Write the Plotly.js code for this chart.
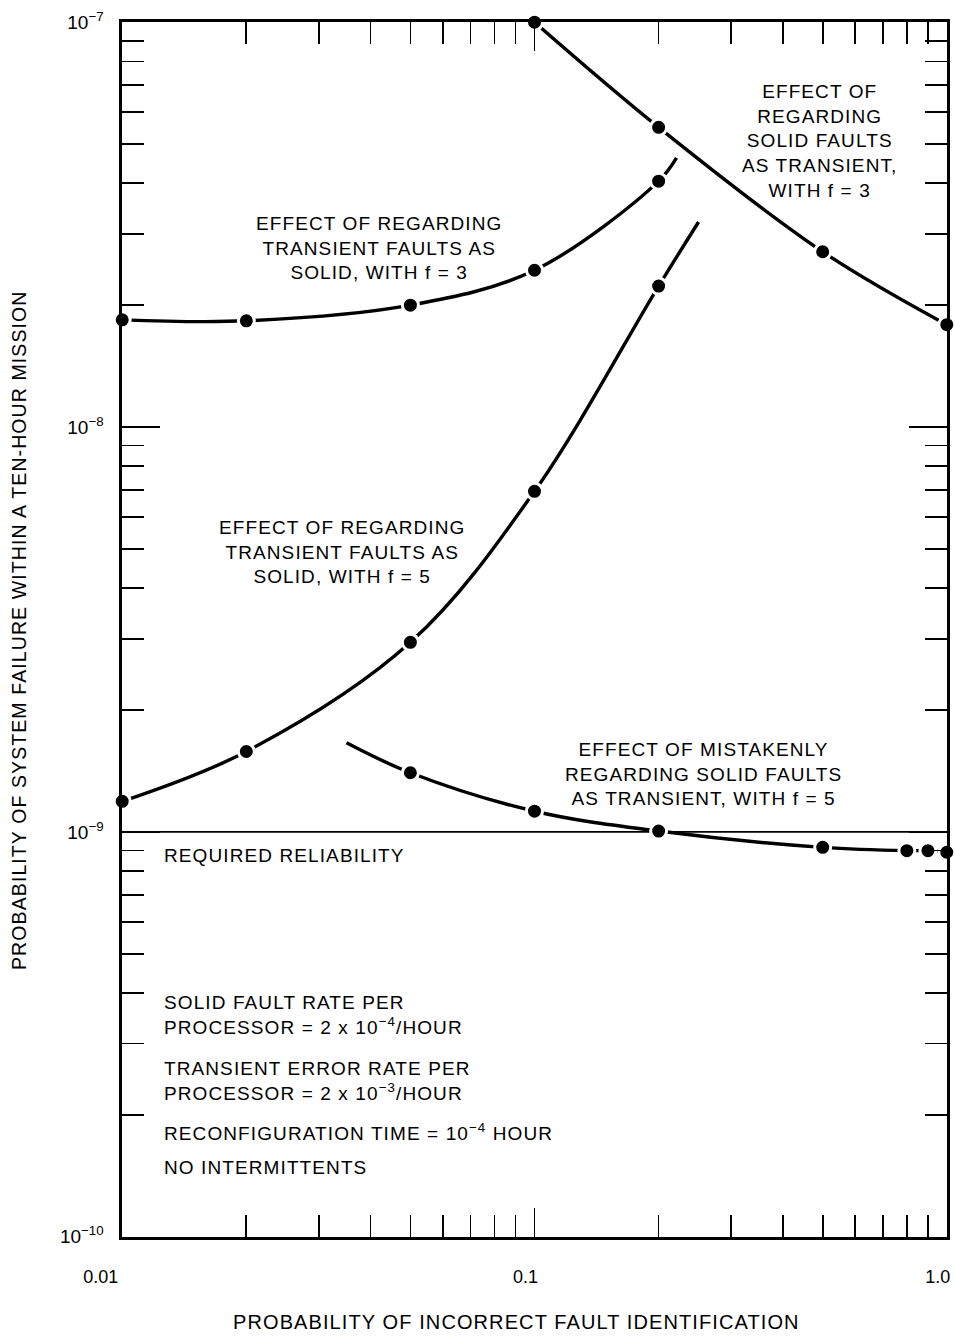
<!DOCTYPE html>
<html>
<head>
<meta charset="utf-8">
<script src="https://cdn.plot.ly/plotly-3.0.1.min.js"></script>
<style>
  html, body { margin: 0; padding: 0; background: #fff; }
  #chart { width: 955px; height: 1336px; }
  .annotation-text { letter-spacing: 1.1px; }
</style>
</head>
<body>
<div id="chart"></div>
<script>
// ---- data ----
// Effect of regarding solid faults as transient, f = 3
const solidAsTransientF3_x = [0.1, 0.2, 0.5, 1.0];
const solidAsTransientF3_y = [1.0e-7, 5.5e-8, 2.71e-8, 1.79e-8];

// Effect of regarding transient faults as solid, f = 3
const transientAsSolidF3_x = [0.01, 0.02, 0.05, 0.1, 0.2];
const transientAsSolidF3_y = [1.84e-8, 1.83e-8, 2.0e-8, 2.44e-8, 4.05e-8];
const transientAsSolidF3_endX = 0.221;
const transientAsSolidF3_endY = 4.62e-8;

// Effect of regarding transient faults as solid, f = 5
const transientAsSolidF5_x = [0.01, 0.02, 0.05, 0.1, 0.2];
const transientAsSolidF5_y = [1.19e-9, 1.58e-9, 2.94e-9, 6.94e-9, 2.23e-8];
const transientAsSolidF5_endX = 0.25;
const transientAsSolidF5_endY = 3.21e-8;

// Effect of mistakenly regarding solid faults as transient, f = 5
const solidAsTransientF5_startX = 0.035;
const solidAsTransientF5_startY = 1.66e-9;
const solidAsTransientF5_x = [0.05, 0.1, 0.2, 0.5, 0.8, 0.9, 1.0];
const solidAsTransientF5_y = [1.40e-9, 1.125e-9, 1.005e-9, 9.16e-10, 8.99e-10, 8.99e-10, 8.91e-10];

// Required reliability
const requiredReliability = 1e-9;
const xRangeEnds = [0.01, 1.0];

// Axis ticks
const xMajorTicks = [0.01, 0.1, 1.0];
const xMajorLabels = ['0.01', '0.1', '1.0'];
const xMinorTicks = [0.02, 0.03, 0.04, 0.05, 0.06, 0.07, 0.08, 0.09,
                     0.2, 0.3, 0.4, 0.5, 0.6, 0.7, 0.8, 0.9];
const yMajorTicks = [1e-10, 1e-9, 1e-8, 1e-7];
const yMajorLabels = ['10<sup>−10</sup>', '10<sup>−9</sup>', '10<sup>−8</sup>', '10<sup>−7</sup>'];
const yMinorTicks = [2e-10, 3e-10, 4e-10, 5e-10, 6e-10, 7e-10, 8e-10, 9e-10,
                     2e-9, 3e-9, 4e-9, 5e-9, 6e-9, 7e-9, 8e-9, 9e-9,
                     2e-8, 3e-8, 4e-8, 5e-8, 6e-8, 7e-8, 8e-8, 9e-8];

// ---- layout geometry ----
const W = 955, H = 1336;
const M = { l: 122, r: 8, t: 22, b: 99 };
const PW = W - M.l - M.r, PH = H - M.t - M.b;
const px = x => (x - M.l) / PW;
const py = y => 1 - (y - M.t) / PH;

const FONT = 'Liberation Sans, Arial, sans-serif';
const NB = '\u00a0';
// the first label in the reference sits further left of its tick: pad with trailing spaces
const xLabelPad = [5, 0, 0];
const xTickText = xMajorLabels.map((t, i) => t + NB.repeat(xLabelPad[i]));

function lineTrace(xs, ys) {
  return {
    x: xs, y: ys, type: 'scatter', mode: 'lines',
    line: { color: '#000', width: 3.4, shape: 'spline', smoothing: 1 },
    hoverinfo: 'skip', cliponaxis: false, showlegend: false
  };
}
function markerTrace(xs, ys) {
  return {
    x: xs, y: ys, type: 'scatter', mode: 'markers',
    marker: { color: '#000', size: 16, line: { color: '#fff', width: 3 } },
    hoverinfo: 'skip', cliponaxis: false, showlegend: false
  };
}

const traces = [
  {
    x: xRangeEnds, y: [requiredReliability, requiredReliability],
    type: 'scatter', mode: 'lines', line: { color: '#000', width: 1.8 },
    hoverinfo: 'skip', showlegend: false
  },
  lineTrace(solidAsTransientF3_x, solidAsTransientF3_y),
  lineTrace(transientAsSolidF3_x.concat([transientAsSolidF3_endX]),
            transientAsSolidF3_y.concat([transientAsSolidF3_endY])),
  lineTrace(transientAsSolidF5_x.concat([transientAsSolidF5_endX]),
            transientAsSolidF5_y.concat([transientAsSolidF5_endY])),
  lineTrace([solidAsTransientF5_startX].concat(solidAsTransientF5_x),
            [solidAsTransientF5_startY].concat(solidAsTransientF5_y)),
  markerTrace(solidAsTransientF3_x, solidAsTransientF3_y),
  markerTrace(transientAsSolidF3_x, transientAsSolidF3_y),
  markerTrace(transientAsSolidF5_x, transientAsSolidF5_y),
  markerTrace(solidAsTransientF5_x, solidAsTransientF5_y)
];

const textFont = { family: FONT, size: 19, color: '#000' };
function note(text, x, y, align, xanchor) {
  return {
    text: text, xref: 'paper', yref: 'paper', x: px(x), y: py(y),
    xanchor: xanchor || 'center', yanchor: 'middle', align: align || 'center',
    showarrow: false, font: textFont
  };
}

const annotations = [
  note('EFFECT OF<br>REGARDING<br>SOLID FAULTS<br>AS TRANSIENT,<br>WITH f = 3', 819, 141),
  note('EFFECT OF REGARDING<br>TRANSIENT FAULTS AS<br>SOLID, WITH f = 3', 379, 248),
  note('EFFECT OF REGARDING<br>TRANSIENT FAULTS AS<br>SOLID, WITH f = 5', 342, 552),
  note('EFFECT OF MISTAKENLY<br>REGARDING SOLID FAULTS<br>AS TRANSIENT, WITH f = 5', 703, 774),
  note('REQUIRED RELIABILITY', 162, 855, 'left', 'left'),
  note('SOLID FAULT RATE PER<br>PROCESSOR = 2 x 10<sup>−4</sup>/HOUR', 162, 1015, 'left', 'left'),
  note('TRANSIENT ERROR RATE PER<br>PROCESSOR = 2 x 10<sup>−3</sup>/HOUR', 162, 1081, 'left', 'left'),
  note('RECONFIGURATION TIME = 10<sup>−4</sup> HOUR', 162, 1132, 'left', 'left'),
  note('NO INTERMITTENTS', 162, 1167, 'left', 'left'),
  {
    text: 'PROBABILITY OF SYSTEM FAILURE WITHIN A TEN-HOUR MISSION',
    xref: 'paper', yref: 'paper', x: px(19), y: py(630), textangle: -90,
    xanchor: 'center', yanchor: 'middle', showarrow: false,
    font: { family: FONT, size: 19.5, color: '#000' }
  },
  {
    text: 'PROBABILITY OF INCORRECT FAULT IDENTIFICATION',
    xref: 'paper', yref: 'paper', x: px(516), y: py(1322),
    xanchor: 'center', yanchor: 'middle', showarrow: false,
    font: { family: FONT, size: 20, color: '#000' }
  }
];

const axisCommon = {
  type: 'log', showgrid: false, zeroline: false,
  showline: true, linecolor: '#000', linewidth: 2.6,
  mirror: 'ticks', ticks: 'inside', tickcolor: '#000', tickwidth: 1.7,
  tickmode: 'array', layer: 'above traces', ticklabeloverflow: 'allow'
};

const layout = {
  width: W, height: H,
  margin: M,
  paper_bgcolor: '#fff', plot_bgcolor: '#fff',
  showlegend: false,
  xaxis: Object.assign({}, axisCommon, {
    range: [-2.0005, 0.0005],
    tickvals: xMajorTicks, ticktext: xTickText,
    tickfont: { family: FONT, size: 18, color: '#000' },
    ticklen: 29, ticklabelstandoff: 22, ticklabelshift: -9,
    minor: { tickmode: 'array', tickvals: xMinorTicks, ticks: 'inside',
             ticklen: 22, tickwidth: 1.7, tickcolor: '#000', showgrid: false }
  }),
  yaxis: Object.assign({}, axisCommon, {
    range: [-10.0005, -6.9995],
    tickvals: yMajorTicks, ticktext: yMajorLabels,
    tickfont: { family: FONT, size: 19, color: '#000' },
    ticklen: 38, ticklabelstandoff: 12,
    minor: { tickmode: 'array', tickvals: yMinorTicks, ticks: 'inside',
             ticklen: 22, tickwidth: 1.7, tickcolor: '#000', showgrid: false }
  }),
  annotations: annotations
};

Plotly.newPlot('chart', traces, layout, { staticPlot: true, displayModeBar: false });
</script>
</body>
</html>
